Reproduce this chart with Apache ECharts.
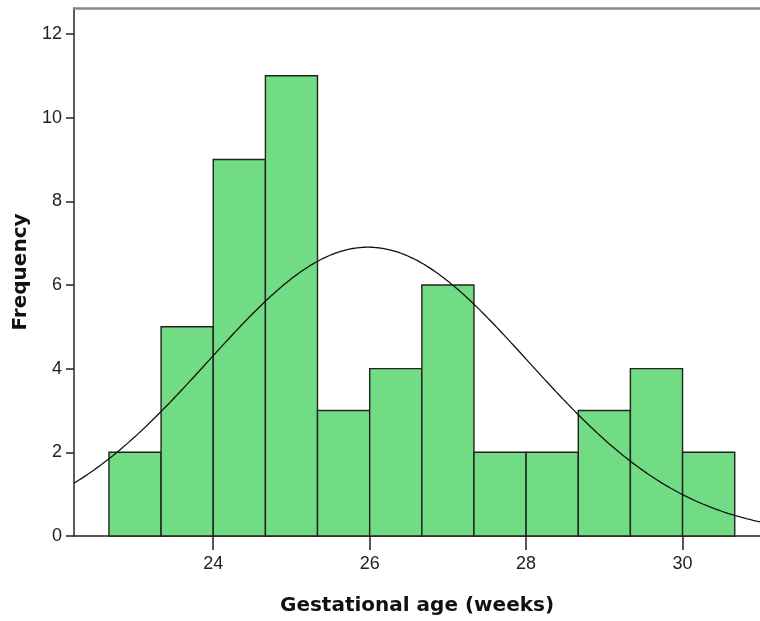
<!DOCTYPE html>
<html>
<head>
<meta charset="utf-8">
<script src="https://cdn.jsdelivr.net/npm/echarts@6/dist/echarts.min.js"></script>
<style>
  html, body { margin: 0; padding: 0; background: #fff; }
  #chart { width: 760px; height: 621px; }
</style>
</head>
<body>
<div id="chart"></div>
<script>
// Histogram of gestational age with a fitted normal curve
const binEdges = [22.667, 23.333, 24, 24.667, 25.333, 26, 26.667, 27.333, 28, 28.667, 29.333, 30, 30.667];
const counts = [2, 5, 9, 11, 3, 4, 6, 2, 2, 3, 4, 2];
const xTicks = [24, 26, 28, 30];
const yTicks = [0, 2, 4, 6, 8, 10, 12];

// Normal curve parameters (mean, sd of the sample)
const curveMean = 25.98;
const curveSd = 2.04;

const xMin = 22.22, xMax = 30.99;
const yMax = 12.62;

const total = counts.reduce((a, b) => a + b, 0);
const binWidth = binEdges[1] - binEdges[0];

const bars = counts.map((c, i) => [binEdges[i], binEdges[i + 1], c]);

const curve = [];
for (let k = 0; k <= 300; k++) {
  const x = xMin + (xMax - xMin) * k / 300;
  const z = (x - curveMean) / curveSd;
  const y = total * binWidth / (curveSd * Math.sqrt(2 * Math.PI)) * Math.exp(-0.5 * z * z);
  curve.push([x, y]);
}

const chart = echarts.init(document.getElementById('chart'));
chart.setOption({
  animation: false,
  grid: { left: 74, right: 0, top: 8, bottom: 85 },
  xAxis: [{
    type: 'value',
    min: xMin, max: xMax,
    name: 'Gestational age (weeks)',
    nameLocation: 'middle',
    nameGap: 60,
    nameTextStyle: { fontFamily: 'DejaVu Sans', fontWeight: 'bold', fontSize: 20, color: '#111' },
    axisLine: { show: true, onZero: false, lineStyle: { color: '#222', width: 1.5 } },
    axisTick: { show: true, length: 14, customValues: xTicks, lineStyle: { color: '#222', width: 1.5 } },
    axisLabel: { customValues: xTicks, margin: 19, fontFamily: 'Liberation Sans', fontSize: 18, color: '#222' },
    splitLine: { show: false }
  }, {
    type: 'value',
    position: 'top',
    min: xMin, max: xMax,
    axisLine: { show: true, onZero: false, lineStyle: { color: '#8a8a8a', width: 2.5 } },
    axisTick: { show: false },
    axisLabel: { show: false },
    splitLine: { show: false }
  }],
  yAxis: {
    type: 'value',
    min: 0, max: yMax,
    name: 'Frequency',
    nameLocation: 'middle',
    nameGap: 43,
    nameTextStyle: { fontFamily: 'DejaVu Sans', fontWeight: 'bold', fontSize: 20, color: '#111' },
    axisLine: { show: true, lineStyle: { color: '#333', width: 1.6 } },
    axisTick: { show: true, length: 8, customValues: yTicks, lineStyle: { color: '#222', width: 1.5 } },
    axisLabel: { customValues: yTicks, margin: 12, fontFamily: 'Liberation Sans', fontSize: 18, color: '#222' },
    splitLine: { show: false }
  },
  series: [{
    type: 'custom',
    data: bars,
    encode: { x: [0, 1], y: 2 },
    renderItem: function (params, api) {
      const p0 = api.coord([api.value(0), api.value(2)]);
      const p1 = api.coord([api.value(1), 0]);
      return {
        type: 'rect',
        shape: { x: p0[0], y: p0[1], width: p1[0] - p0[0], height: p1[1] - p0[1] },
        style: { fill: '#71dc83', stroke: '#222', lineWidth: 1.4 }
      };
    },
    z: 2
  }, {
    type: 'line',
    data: curve,
    showSymbol: false,
    smooth: false,
    lineStyle: { color: '#111', width: 1.3 },
    z: 3
  }]
});
</script>
</body>
</html>
